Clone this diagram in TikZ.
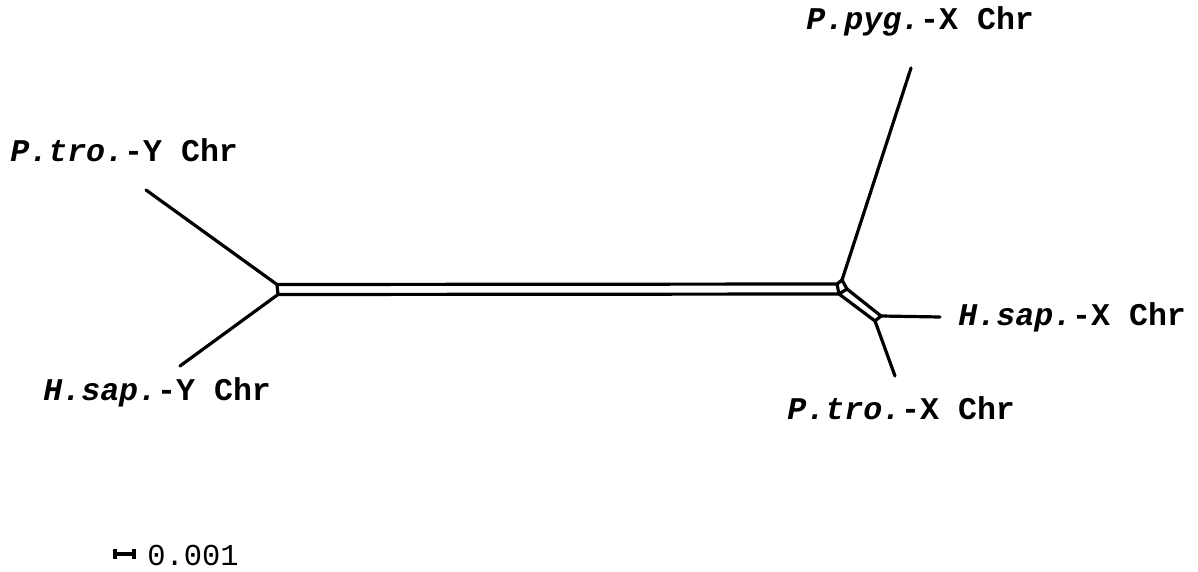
\documentclass[tikz,border=0pt]{standalone}
\usepackage{fontspec}
\newfontfamily\taxonfont{Liberation Mono}
\begin{document}
\begin{tikzpicture}[x=0.5pt, y=-0.5pt,
  edge/.style={line width=1.6pt, line join=round, line cap=round},
  taxon/.style={font=\fontsize{15.8}{18}\selectfont\taxonfont\bfseries, inner sep=0pt, anchor=base west},
  scalelabel/.style={font=\fontsize{15.2}{18}\selectfont\taxonfont, inner sep=0pt, anchor=base west}
]
\useasboundingbox (0,0) rectangle (1198,572);

% Network vertices (pixel grid of the reference, y downwards)
\coordinate (L1) at (277,284.5);
\coordinate (L2) at (278,294.5);
\coordinate (R1) at (837,284);
\coordinate (R2) at (839,294);
\coordinate (R3) at (842,280);
\coordinate (R4) at (847,289);
\coordinate (D1) at (881,316);
\coordinate (D2) at (875,321);

% Leaf ends
\coordinate (tPtroY) at (146,190);
\coordinate (tHsapY) at (180,366);
\coordinate (tPpygX) at (911,68);
\coordinate (tHsapX) at (940,317);
\coordinate (tPtroX) at (895,376);

% Boxes of the splits network
\draw[edge] (L1) -- (R1) -- (R2) -- (L2) -- cycle;
\draw[edge] (R1) -- (R3) -- (R4) -- (R2);
\draw[edge] (R4) -- (D1) -- (D2) -- (R2);

% Pendant edges
\draw[edge] (L1) -- (tPtroY);
\draw[edge] (L2) -- (tHsapY);
\draw[edge] (R3) -- (tPpygX);
\draw[edge] (D1) -- (tHsapX);
\draw[edge] (D2) -- (tPtroX);

% Leaf labels
\node[taxon] (nPtroY) at (10,162)  {\textit{P.tro.}-Y Chr};
\node[taxon] (nHsapY) at (43,400)  {\textit{H.sap.}-Y Chr};
\node[taxon] (nPpygX) at (806,30)  {\textit{P.pyg.}-X Chr};
\node[taxon] (nHsapX) at (958,325) {\textit{H.sap.}-X Chr};
\node[taxon] (nPtroX) at (787,419) {\textit{P.tro.}-X Chr};

% Scale bar
\coordinate (s1) at (115,554);
\coordinate (s2) at (134,554);
\draw[edge, line cap=butt] (s1) -- (s2);
\draw[edge, line cap=butt] ([yshift=-2.5pt]s1) -- ([yshift=2.5pt]s1);
\draw[edge, line cap=butt] ([yshift=-2.5pt]s2) -- ([yshift=2.5pt]s2);
\node[scalelabel] (nScale) at (147,565) {0.001};
\end{tikzpicture}
\end{document}
